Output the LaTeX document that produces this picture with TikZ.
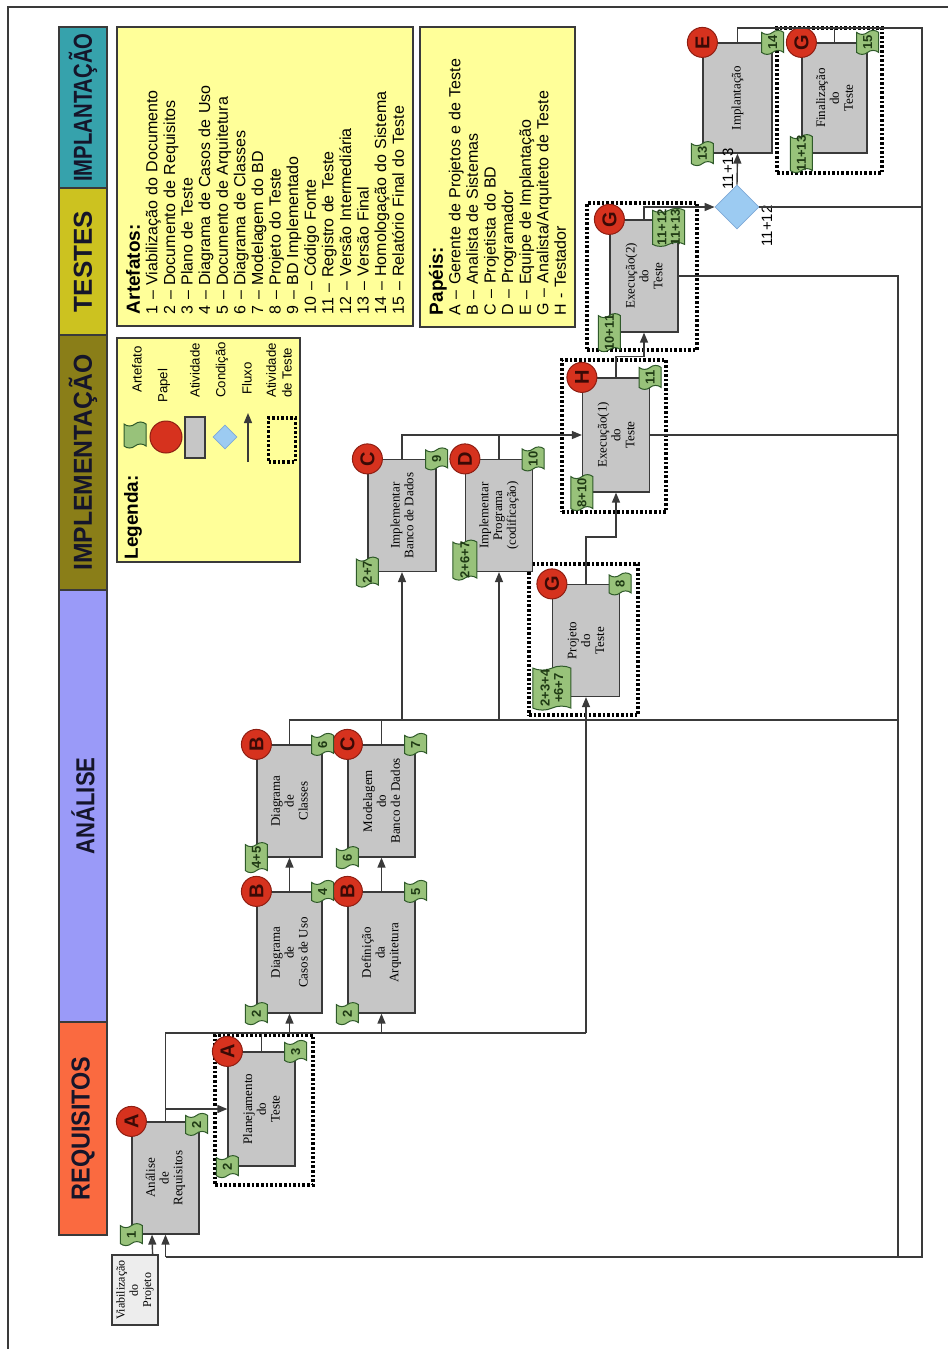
\documentclass[tikz,border=0pt]{standalone}
\usepackage{fontspec}
\setmainfont{Liberation Serif}
\setsansfont{Liberation Sans}
\usepackage{graphicx}
\usetikzlibrary{arrows.meta,positioning,calc,shapes.geometric,shapes.symbols}
\definecolor{Ink}{HTML}{3A3A3A}
\definecolor{HeadInk}{HTML}{15152A}
\definecolor{ReqOrange}{HTML}{FA6A40}
\definecolor{AnaBlue}{HTML}{9A9AF8}
\definecolor{ImpOlive}{HTML}{8A7E18}
\definecolor{TesYellow}{HTML}{CCC220}
\definecolor{ImpTeal}{HTML}{36A2AC}
\definecolor{Note}{HTML}{FFFF99}
\definecolor{ActGrey}{HTML}{C6C6C6}
\definecolor{ViabGrey}{HTML}{EDEDED}
\definecolor{RoleRed}{HTML}{D6321E}
\definecolor{RoleDark}{HTML}{8E1E12}
\definecolor{RoleInk}{HTML}{3B0A06}
\definecolor{ArtGreen}{HTML}{98C27A}
\definecolor{ArtDark}{HTML}{2F5A2A}
\definecolor{ArtInk}{HTML}{1F3A14}
\definecolor{CondBlue}{HTML}{9CCBF2}
\definecolor{CondDark}{HTML}{7FA9D6}
\tikzset{
  >={Triangle[length=5pt,width=4pt]},
  link/.style={draw=Ink,line width=.7pt},
  flow/.style={link,->},
  hdr/.style={draw=Ink,line width=.6pt,rotate=90,minimum height=24pt,inner sep=0pt,text=HeadInk,font=\sffamily\bfseries\fontsize{13}{13}\selectfont},
  note/.style={draw=Ink,line width=.6pt,fill=Note,rotate=90,inner xsep=6pt,inner ysep=1.5pt,align=left,font=\sffamily\fontsize{8}{8.8}\selectfont},
  act/.style={draw=Ink,line width=.6pt,fill=ActGrey,rotate=90,minimum width=56pt,minimum height=33.5pt,inner sep=1pt,align=center,font=\fontsize{6.5}{6.9}\selectfont},
  role/.style={circle,draw=RoleDark,line width=.5pt,fill=RoleRed,minimum size=15pt,inner sep=0pt,rotate=90,text=RoleInk,font=\sffamily\bfseries\fontsize{10}{10}\selectfont},
  testbox/.style={draw=black,line width=2.2pt,dash pattern=on 1.3pt off 1pt},
  artshape/.style={tape,draw=ArtDark,line width=.5pt,fill=ArtGreen,tape bend height=2pt,inner sep=0pt},
  arttext/.style={rotate=90,inner sep=0pt,align=center,text=ArtInk,font=\sffamily\bfseries\fontsize{6.5}{6.8}\selectfont},
  cond/.style={diamond,draw=CondDark,line width=.4pt,fill=CondBlue,minimum size=22pt,inner sep=0pt},
  condlab/.style={rotate=90,inner sep=0pt,font=\sffamily\fontsize{7.5}{7.5}\selectfont},
  leglab/.style={rotate=90,inner sep=0pt,anchor=west,align=left,font=\sffamily\fontsize{6.6}{7.8}\selectfont}
}
% artefato: name, position, label, width, height (px)
\newcommand{\artf}[5]{%
  \node[artshape,minimum width=#4*0.5pt,minimum height=#5*0.5pt] (#1) at (#2) {};
  \node[arttext] (#1t) at (#1.center) {#3};}

\begin{document}
\begin{tikzpicture}[x=0.5pt,y=-0.5pt]
\useasboundingbox (0,0) rectangle (948,1349);
\draw[link] (8,1349) -- (8,7) -- (948,7);

% fases
\node[hdr,fill=ImpTeal,minimum width=80.5pt] (hImplant) at (83,107.5) {\scalebox{.78}[1]{IMPLANTAÇÃO}};
\node[hdr,fill=TesYellow,minimum width=73.5pt] (hTestes) at (83,261.5) {TESTES};
\node[hdr,fill=ImpOlive,minimum width=127.5pt] (hImplem) at (83,462.5) {\scalebox{.95}[1]{IMPLEMENTAÇÃO}};
\node[hdr,fill=AnaBlue,minimum width=216pt] (hAnalise) at (83,806) {\scalebox{.85}[1]{ANÁLISE}};
\node[hdr,fill=ReqOrange,minimum width=106.5pt] (hReq) at (83,1128.5) {\scalebox{.9}[1]{REQUISITOS}};

% quadros de texto
\node[note,minimum width=149.5pt,minimum height=148pt,text width=137.5pt] (artefatos) at (265,176.5) {%
  {\bfseries\fontsize{9.5}{10.5}\selectfont Artefatos:}\\
  1 – Viabilização do Documento\\
  2 – Documento de Requisitos\\
  3 – Plano de Teste\\
  4 – Diagrama de Casos de Uso\\
  5 – Documento de Arquitetura\\
  6 – Diagrama de Classes\\
  7 – Modelagem do BD\\
  8 – Projeto do Teste\\
  9 – BD Implementado\\
  10 – Código Fonte\\
  11 – Registro de Teste\\
  12 – Versão Intermediária\\
  13 – Versão Final\\
  14 – Homologação do Sistema\\
  15 – Relatório Final do Teste};
\node[note,minimum width=150pt,minimum height=77.5pt,text width=138pt] (papeis) at (497.5,177) {%
  {\bfseries\fontsize{9.5}{10.5}\selectfont Papéis:}\\
  A – Gerente de Projetos e de Teste\\
  B – Analista de Sistemas\\
  C – Projetista do BD\\
  D – Programador\\
  E – Equipe de Implantação\\
  G – Analista/Arquiteto de Teste\\
  H - Testador};

% legenda
\node[note,minimum width=112pt,minimum height=91.5pt] (legenda) at (208.5,450) {};
\node[leglab,font=\sffamily\bfseries\fontsize{9.5}{11}\selectfont] (legT) at (133,560) {Legenda:};
\artf{legArt}{135,435}{}{22}{26}
\node[role,minimum size=16pt] (legRole) at (166,437) {};
\node[act,minimum width=20.5pt,minimum height=10pt] (legAct) at (195,437.5) {};
\node[cond,minimum size=12pt] (legCond) at (225,437) {};
\coordinate (legF1) at (248,462);
\coordinate (legF2) at (248,413);
\draw[flow] (legF1) -- (legF2);
\node[testbox,line width=1.6pt,minimum width=13.5pt,minimum height=22pt] (legTest) at (282,440) {};
\node[leglab] (legArtL) at (137,393) {Artefato};
\node[leglab] (legRoleL) at (164,403) {Papel};
\node[leglab] (legActL) at (195,398) {Atividade};
\node[leglab] (legCondL) at (222,398) {Condição};
\node[leglab] (legFlowL) at (247,395) {Fluxo};
\node[leglab] (legTestL) at (279,398) {Atividade\\de Teste};

% atividades de teste
\node[testbox,minimum width=49pt,minimum height=75pt] (planTb) at (264,1110) {};
\node[testbox,minimum width=54.5pt,minimum height=75.5pt] (projTb) at (583.5,639.5) {};
\node[testbox,minimum width=52pt,minimum height=76pt] (exec1Tb) at (614,436) {};
\node[testbox,minimum width=55pt,minimum height=73.5pt] (exec2Tb) at (642,276.5) {};
\node[testbox,minimum width=52.5pt,minimum height=72.5pt] (finalTb) at (829.5,100.5) {};

% atividades
\node[act,fill=ViabGrey,minimum width=35pt,minimum height=23pt,font=\fontsize{6}{6.6}\selectfont] (viab) at (135,1290) {Viabilização\\do\\Projeto};
\node[act] (anreq) at (165.5,1178) {Análise\\de\\Requisitos};
\node[act,minimum width=57pt] (plan) at (261.5,1109) {Planejamento\\do\\Teste};
\node[act,minimum width=60.5pt,minimum height=32.5pt] (casos) at (289.5,952.5) {Diagrama\\de\\Casos de Uso};
\node[act,minimum width=60.5pt] (arq) at (381.5,952.5) {Definição\\da\\Arquitetura};
\node[act,minimum height=32.5pt] (classes) at (289.5,801) {Diagrama\\de\\Classes};
\node[act] (modbd) at (381.5,801) {Modelagem\\do\\Banco de Dados};
\node[act,minimum height=34pt] (implbd) at (402,515.5) {Implementar\\Banco de Dados};
\node[act] (implprog) at (499,515.5) {Implementar\\Programa\\(codificação)};
\node[act] (projteste) at (586,640.5) {Projeto\\do\\Teste};
\node[act,minimum width=57pt] (exec1) at (616,435) {Execução(1)\\do\\Teste};
\node[act,minimum height=34pt] (exec2) at (644,276) {Execução(2)\\do\\Teste};
\node[act,minimum width=55pt,minimum height=34.5pt] (impl) at (737.5,98) {Implantação};
\node[act,minimum width=55pt,minimum height=32.5pt] (final) at (834.5,98) {Finalização\\do\\Teste};

% papeis
\node[role] (anreqR) at (anreq.north east) {A};
\node[role] (planR) at (plan.north east) {A};
\node[role] (casosR) at (casos.north east) {B};
\node[role] (arqR) at (arq.north east) {B};
\node[role] (classesR) at (classes.north east) {B};
\node[role] (modbdR) at (modbd.north east) {C};
\node[role] (implbdR) at (implbd.north east) {C};
\node[role] (implprogR) at (implprog.north east) {D};
\node[role] (projR) at (projteste.north east) {G};
\node[role] (exec1R) at (exec1.north east) {H};
\node[role] (exec2R) at (exec2.north east) {G};
\node[role] (implR) at (impl.north east) {E};
\node[role] (finalR) at (final.north east) {G};

% artefatos
\artf{anreqIn}{anreq.north west}{1}{22}{22}
\artf{anreqOut}{$(anreq.south east)+(-3,3)$}{2}{22}{22}
\artf{planIn}{plan.north west}{2}{22}{22}
\artf{planOut}{plan.south east}{3}{22}{22}
\artf{casosIn}{casos.north west}{2}{22}{22}
\artf{casosOut}{casos.south east}{4}{22}{22}
\artf{arqIn}{arq.north west}{2}{22}{22}
\artf{arqOut}{arq.south east}{5}{22}{22}
\artf{classesIn}{classes.north west}{4+5}{22}{30}
\artf{classesOut}{classes.south east}{6}{22}{22}
\artf{modbdIn}{modbd.north west}{6}{22}{22}
\artf{modbdOut}{modbd.south east}{7}{22}{22}
\artf{implbdIn}{implbd.north west}{2+7}{22}{30}
\artf{implbdOut}{implbd.south east}{9}{22}{22}
\artf{implprogIn}{$(implprog.north west)+(0,-12)$}{2+6+7}{24}{40}
\artf{implprogOut}{implprog.south east}{10}{22}{24}
\artf{projIn}{$(projteste.north west)+(0,-9)$}{2+3+4\\+6+7}{38}{44}
\artf{projOut}{projteste.south east}{8}{22}{22}
\artf{exec1In}{exec1.north west}{8+10}{22}{36}
\artf{exec1Out}{exec1.south east}{11}{22}{24}
\artf{exec2In}{exec2.north west}{10+11}{22}{38}
\artf{exec2Out}{$(exec2.south east)+(-10,8)$}{11+12\\11+13}{32}{38}
\artf{implIn}{impl.north west}{13}{22}{24}
\artf{implOut}{impl.south east}{14}{22}{24}
\artf{finalIn}{final.north west}{11+13}{22}{38}
\artf{finalOut}{final.south east}{15}{22}{24}

% condicao
\node[cond] (cond) at (737,207) {};
\node[condlab] (cond1113) at (728,169) {11+13};
\node[condlab] (cond1112) at (767,226) {11+12};

% fluxos
\coordinate (busReq) at (586,1033);
\coordinate (busAna) at (898,720);
\coordinate (loopTop) at (922,28);
\coordinate (loopBot) at (922,1257);
\draw[flow] ($(viab.south east)+(-6,0)$) -- ($(anreq.west)+(-13.5,0)$);
\draw[flow] (anreq.east) |- (plan.north);
\draw[link] (anreq.east) -- (anreq.east |- busReq) -- (busReq);
\draw[link] (plan.east) -- (plan.east |- busReq);
\draw[flow] (casos.west |- busReq) -- (casos.west);
\draw[flow] (arq.west |- busReq) -- (arq.west);
\draw[flow] (busReq) -- (projteste.west);
\draw[flow] (casos.east) -- (classes.west);
\draw[flow] (arq.east) -- (modbd.west);
\draw[link] (classes.east) -- (classes.east |- busAna) -- (busAna);
\draw[link] (modbd.east) -- (modbd.east |- busAna);
\draw[flow] (implbd.west |- busAna) -- (implbd.west);
\draw[flow] (implprog.west |- busAna) -- (implprog.west);
\draw[flow] (implbd.east) |- (exec1.north);
\draw[link] (implprog.east) -- (implprog.east |- exec1.north);
\draw[flow] (projteste.east) -- ++(0,-47) -| (exec1.west);
\draw[flow] (exec1.east) -- ++(0,-21) -| (exec2.west);
\draw[flow] (exec2.east) |- (cond.west);
\draw[link] (exec1.south) -- (exec1.south -| busAna);
\draw[link] (exec2.south) -- (exec2.south -| busAna) -- (busAna |- loopBot);
\draw[flow] (cond.north) -- (impl.west);
\draw[link] (cond.east) -- (cond.east -| loopTop);
\draw[link] (final.east) -- (final.east |- loopTop);
\draw[link] (impl.east) |- (loopTop) -- (loopBot) -- (anreq.west |- loopBot);
\draw[flow] (anreq.west |- loopBot) -- (anreq.west);
\end{tikzpicture}
\end{document}
